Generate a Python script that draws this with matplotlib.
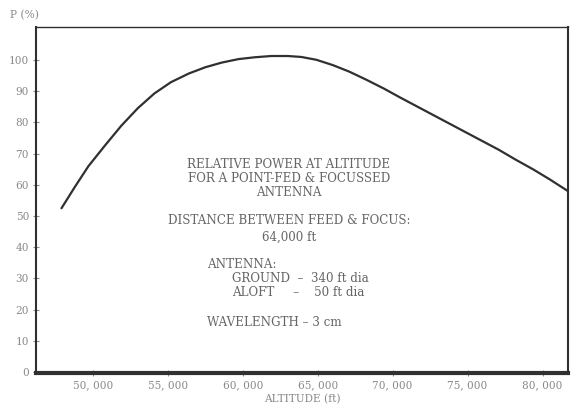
import matplotlib
matplotlib.use("Agg")
import matplotlib.pyplot as plt
from matplotlib.ticker import FuncFormatter

# curve
altitude = [47900, 48800, 49700, 50800, 51900, 53000, 54100, 55200, 56400,
            57500, 58600, 59700, 60800, 61900, 63000, 63900, 64900, 66000,
            67100, 68200, 69400, 70500, 71600, 72700, 73800, 74900, 76000,
            77100, 78200, 79400, 80500, 81700]
power = [52.5, 59.4, 66.0, 72.6, 79.0, 84.6, 89.3, 92.9, 95.7,
         97.7, 99.2, 100.3, 100.9, 101.3, 101.3, 101.0, 100.1, 98.4,
         96.3, 93.8, 90.9, 88.0, 85.2, 82.4, 79.6, 76.8, 74.0,
         71.2, 68.1, 64.9, 61.7, 58.0]

x_ticks = [50000, 55000, 60000, 65000, 70000, 75000, 80000]
y_ticks = [0, 10, 20, 30, 40, 50, 60, 70, 80, 90, 100]

INK = "#303030"
GREY = "#8a8a8a"

plt.rcParams["font.family"] = ["DejaVu Serif"]

fig = plt.figure(figsize=(5.71, 4.08), dpi=100)
ax = fig.add_axes([36 / 571, 1 - 373 / 408, 532 / 571, 346 / 408])

ax.plot(altitude, power, color=INK, lw=1.6, solid_capstyle="round",
        solid_joinstyle="round")

ax.set_xlim(46200, 81700)
ax.set_ylim(-0.3, 110.6)
ax.set_xticks(x_ticks)
ax.set_yticks(y_ticks)
ax.xaxis.set_major_formatter(FuncFormatter(lambda v, p: f"{int(v):,}".replace(",", ", ")))
ax.tick_params(axis="both", direction="inout", length=4, width=0.8, color=GREY,
               labelsize=7.6, labelcolor=GREY, pad=3)

for side, w in (("left", 1.5), ("top", 1.0), ("right", 1.5), ("bottom", 3.0)):
    ax.spines[side].set_linewidth(w)
    ax.spines[side].set_color(INK)

ax.set_xlabel("ALTITUDE (ft)", fontsize=7.6, color=GREY, labelpad=3)
fig.text(10 / 571, 1 - 15 / 408, "P (%)", fontsize=7.6, color=GREY, va="center")

txt = dict(fontsize=8.6, color="#666666", transform=ax.transAxes)


def at(px, py):
    return ((px - 36) / 532, (373 - py) / 346)


for line, py in (("RELATIVE POWER AT ALTITUDE", 165),
                 ("FOR A POINT-FED & FOCUSSED", 179),
                 ("ANTENNA", 193),
                 ("DISTANCE BETWEEN FEED & FOCUS:", 221),
                 ("64,000 ft", 237)):
    ax.text(*at(289, py), line, ha="center", va="center", **txt)

ax.text(*at(207, 264), "ANTENNA:", ha="left", va="center", **txt)
ax.text(*at(232, 279), "GROUND  –  340 ft dia", ha="left", va="center", **txt)
ax.text(*at(232, 292), "ALOFT     –    50 ft dia", ha="left", va="center", **txt)
ax.text(*at(207, 323), "WAVELENGTH – 3 cm", ha="left", va="center", **txt)

fig.savefig("out.png", dpi=100)
